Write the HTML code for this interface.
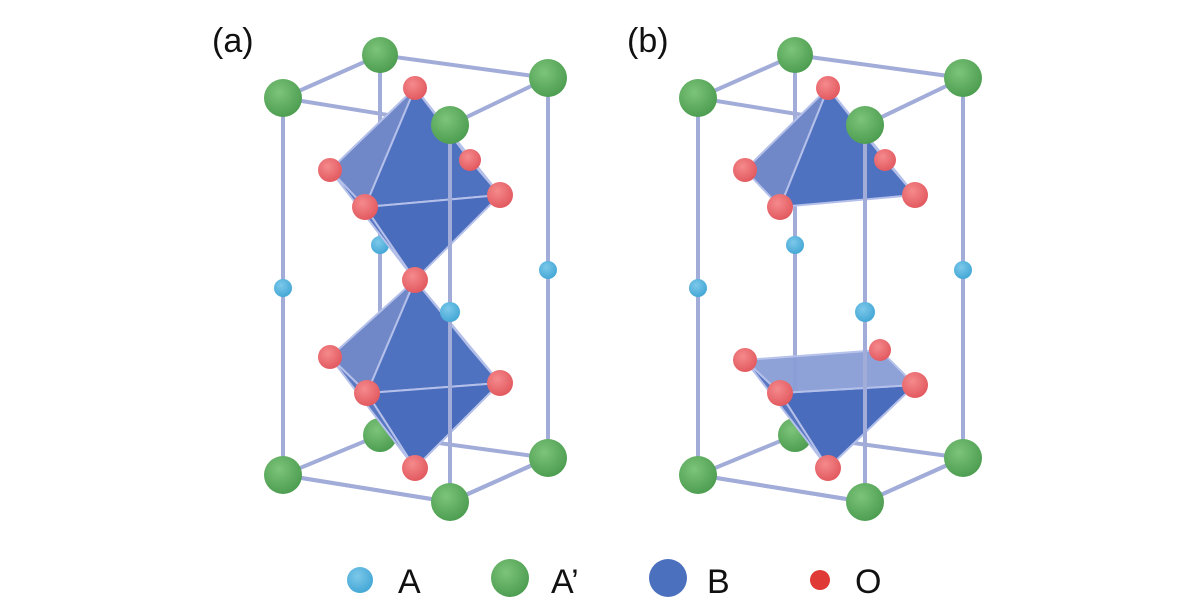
<!DOCTYPE html>
<html><head><meta charset="utf-8"><style>
html,body{margin:0;padding:0;background:#fff;width:1200px;height:615px;overflow:hidden}
svg{display:block}
text{font-family:"Liberation Sans",sans-serif;fill:#111}
</style></head><body>
<svg width="1200" height="615" viewBox="0 0 1200 615">
<defs>
<radialGradient id="g" cx="40%" cy="35%" r="65%"><stop offset="0" stop-color="#7cc47a"/><stop offset="1" stop-color="#4e9e52"/></radialGradient>
<radialGradient id="r" cx="40%" cy="35%" r="65%"><stop offset="0" stop-color="#f58a8c"/><stop offset="1" stop-color="#e25a60"/></radialGradient>
<radialGradient id="c" cx="40%" cy="35%" r="65%"><stop offset="0" stop-color="#7cc8ea"/><stop offset="1" stop-color="#45a8d6"/></radialGradient>
<g id="frame" stroke="#a2acd8" stroke-width="4" fill="none">
<line x1="283" y1="98" x2="283" y2="475"/><line x1="380" y1="55" x2="380" y2="435"/>
<line x1="548" y1="78" x2="548" y2="458"/>
<polygon points="380,55 548,78 450,125 283,98"/>
<polygon points="380,435 548,458 450,502 283,475"/>
</g>
<g id="front" stroke="#a2acd8" stroke-width="4" fill="none">
<line x1="450" y1="125" x2="450" y2="502"/>
<line x1="283" y1="475" x2="450" y2="502"/><line x1="450" y1="502" x2="548" y2="458"/>
</g>
</defs>
<text x="212" y="52" font-size="34">(a)</text>
<text x="627" y="52" font-size="34">(b)</text>
<!-- (a) -->
<use href="#frame"/>
<circle cx="380" cy="435" r="17" fill="url(#g)"/>
<circle cx="380" cy="245" r="9" fill="url(#c)"/>
<g stroke="#b4c0ea" stroke-width="2" stroke-linejoin="round">
<polygon points="415,88 330,170 365,207" fill="#7088c8"/>
<polygon points="415,88 365,207 500,195" fill="#4f72c0"/>
<polygon points="415,88 500,195 470,160" fill="#5a7cc6"/>
<polygon points="415,280 330,170 365,207" fill="#5a78c2"/>
<polygon points="415,280 365,207 500,195" fill="#4a6cbc"/>
<polygon points="415,280 330,357 367,393" fill="#7088c8"/>
<polygon points="415,280 367,393 500,383" fill="#4f72c0"/>
<polygon points="415,280 500,383 470,348" fill="#5a7cc6"/>
<polygon points="415,468 330,357 367,393" fill="#5a78c2"/>
<polygon points="415,468 367,393 500,383" fill="#4a6cbc"/>
</g>
<use href="#front"/>
<g fill="url(#c)"><circle cx="283" cy="288" r="9"/><circle cx="548" cy="270" r="9"/><circle cx="450" cy="312" r="10"/></g>
<g fill="url(#r)"><circle cx="415" cy="88" r="12"/><circle cx="330" cy="170" r="12"/><circle cx="470" cy="160" r="11"/><circle cx="365" cy="207" r="13"/><circle cx="500" cy="195" r="13"/><circle cx="415" cy="280" r="13"/><circle cx="330" cy="357" r="12"/><circle cx="367" cy="393" r="13"/><circle cx="500" cy="383" r="13"/><circle cx="415" cy="468" r="13"/></g>
<g fill="url(#g)"><circle cx="380" cy="55" r="18"/><circle cx="548" cy="78" r="19"/><circle cx="283" cy="98" r="19"/><circle cx="450" cy="125" r="19"/><circle cx="548" cy="458" r="19"/><circle cx="283" cy="475" r="19"/><circle cx="450" cy="502" r="19"/></g>
<!-- (b) -->
<g transform="translate(415,0)"><use href="#frame"/></g>
<circle cx="795" cy="435" r="17" fill="url(#g)"/>
<circle cx="795" cy="245" r="9" fill="url(#c)"/>
<g stroke="#b4c0ea" stroke-width="2" stroke-linejoin="round">
<polygon points="828,88 745,170 780,207" fill="#7088c8"/>
<polygon points="828,88 780,207 915,195" fill="#4f72c0"/>
<polygon points="828,88 915,195 885,160" fill="#5a7cc6"/>
<polygon points="828,468 780,393 915,385" fill="#4a6cbc"/>
<polygon points="828,468 745,360 780,393" fill="#5a78c2"/>
<polygon points="745,360 880,350 915,385 780,393" fill="#8a9ed6" opacity="0.95"/>
</g>
<g transform="translate(415,0)"><use href="#front"/></g>
<g fill="url(#c)"><circle cx="698" cy="288" r="9"/><circle cx="963" cy="270" r="9"/><circle cx="865" cy="312" r="10"/></g>
<g fill="url(#r)"><circle cx="828" cy="88" r="12"/><circle cx="745" cy="170" r="12"/><circle cx="885" cy="160" r="11"/><circle cx="780" cy="207" r="13"/><circle cx="915" cy="195" r="13"/><circle cx="745" cy="360" r="12"/><circle cx="880" cy="350" r="11"/><circle cx="780" cy="393" r="13"/><circle cx="915" cy="385" r="13"/><circle cx="828" cy="468" r="13"/></g>
<g fill="url(#g)"><circle cx="795" cy="55" r="18"/><circle cx="963" cy="78" r="19"/><circle cx="698" cy="98" r="19"/><circle cx="865" cy="125" r="19"/><circle cx="963" cy="458" r="19"/><circle cx="698" cy="475" r="19"/><circle cx="865" cy="502" r="19"/></g>
<!-- legend -->
<circle cx="360" cy="580" r="13" fill="url(#c)"/><text x="398" y="593" font-size="34">A</text>
<circle cx="510" cy="578" r="19" fill="url(#g)"/><text x="551" y="593" font-size="34">A’</text>
<circle cx="668" cy="578" r="19" fill="#4b70be"/><text x="707" y="593" font-size="34">B</text>
<circle cx="820" cy="580" r="10" fill="#e03a36"/><text x="855" y="593" font-size="34">O</text>
</svg>
</body></html>
